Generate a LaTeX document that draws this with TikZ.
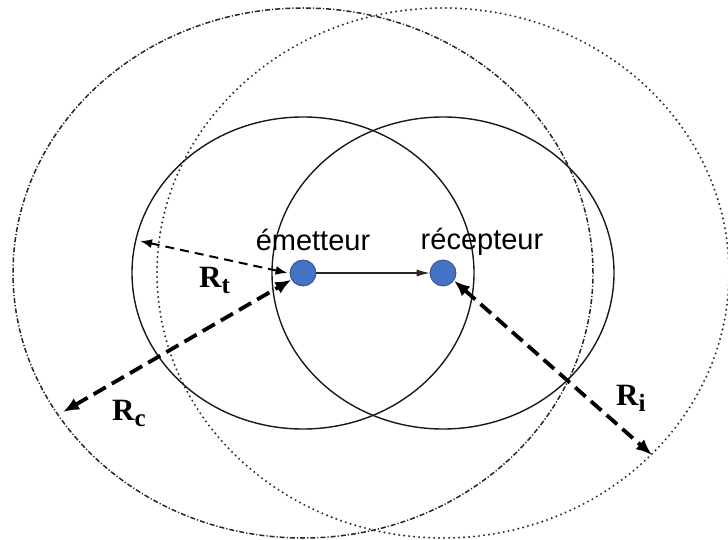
\documentclass[tikz,border=0pt]{standalone}
\usepackage{fontspec}
\setmainfont{Liberation Sans}
\newfontfamily\rfont{Liberation Serif}
\usetikzlibrary{arrows.meta}

\definecolor{stnblue}{RGB}{68,114,196}
\newcommand{\rlabel}[1]{{\rfont\bfseries R\raisebox{-6pt}{\fontsize{25}{25}\selectfont #1}}}

\begin{document}
\begin{tikzpicture}[
      x=1pt, y=-1pt,
      station/.style={circle, draw=stnblue!70!black, fill=stnblue,
        minimum size=26pt, inner sep=0pt, line width=0.8pt},
      txrange/.style={draw=black!90, line width=1.4pt},
      comrange/.style={draw=black!85, line width=1.5pt,
        dash pattern=on 5pt off 2pt on 1.2pt off 2pt},
      intrange/.style={draw=black!80, line width=2.3pt,
        dash pattern=on 0pt off 5pt, line cap=round},
      radarrow/.style={{Latex[length=16pt,width=13pt]}-{Latex[length=16pt,width=13pt]},
        line width=3.8pt, dash pattern=on 14pt off 7pt},
      thinradarrow/.style={{Latex[length=12pt,width=9pt]}-{Latex[length=12pt,width=9pt]},
        line width=2pt, dash pattern=on 9pt off 6pt},
      link/.style={-{Latex[length=13pt,width=7pt]}, line width=1.1pt, draw=black!85},
      stnlabel/.style={font=\fontsize{29}{29}\selectfont, anchor=base, inner sep=0pt},
      rlab/.style={font=\fontsize{31}{31}\selectfont, anchor=base west, inner sep=0pt}
    ]
    \useasboundingbox (0,0) rectangle (728,540);

    \node[station] (em) at (303,273) {};
    \node[station] (rec) at (443,273) {};

    % ranges
    \draw[comrange] (em.center) ellipse [x radius=290pt, y radius=265pt];
    \draw[intrange] (rec.center) ellipse [x radius=286pt, y radius=265pt];
    \draw[txrange] (em.center) ellipse [x radius=171pt, y radius=156pt];
    \draw[txrange] (rec.center) ellipse [x radius=171pt, y radius=156pt];

    \node[stnlabel] (emlabel) at (313,251) {émetteur};
    \node[stnlabel] (reclabel) at (482,249) {récepteur};

    \coordinate (rtend) at (140,241);
    \coordinate (rcend) at (63,412);
    \coordinate (riend) at (652,455);

    \draw[link] (em) -- (rec);
    \draw[thinradarrow] (rtend) -- ([xshift=-2pt]em.west);
    \draw[radarrow] (rcend) -- (em.210);
    \draw[radarrow] (rec.-35) -- (riend);

    \node[rlab] (rt) at (199,287) {\rlabel{t}};
    \node[rlab] (rc) at (112,420) {\rlabel{c}};
    \node[rlab] (ri) at (616,405) {\rlabel{i}};
  \end{tikzpicture}
\end{document}
